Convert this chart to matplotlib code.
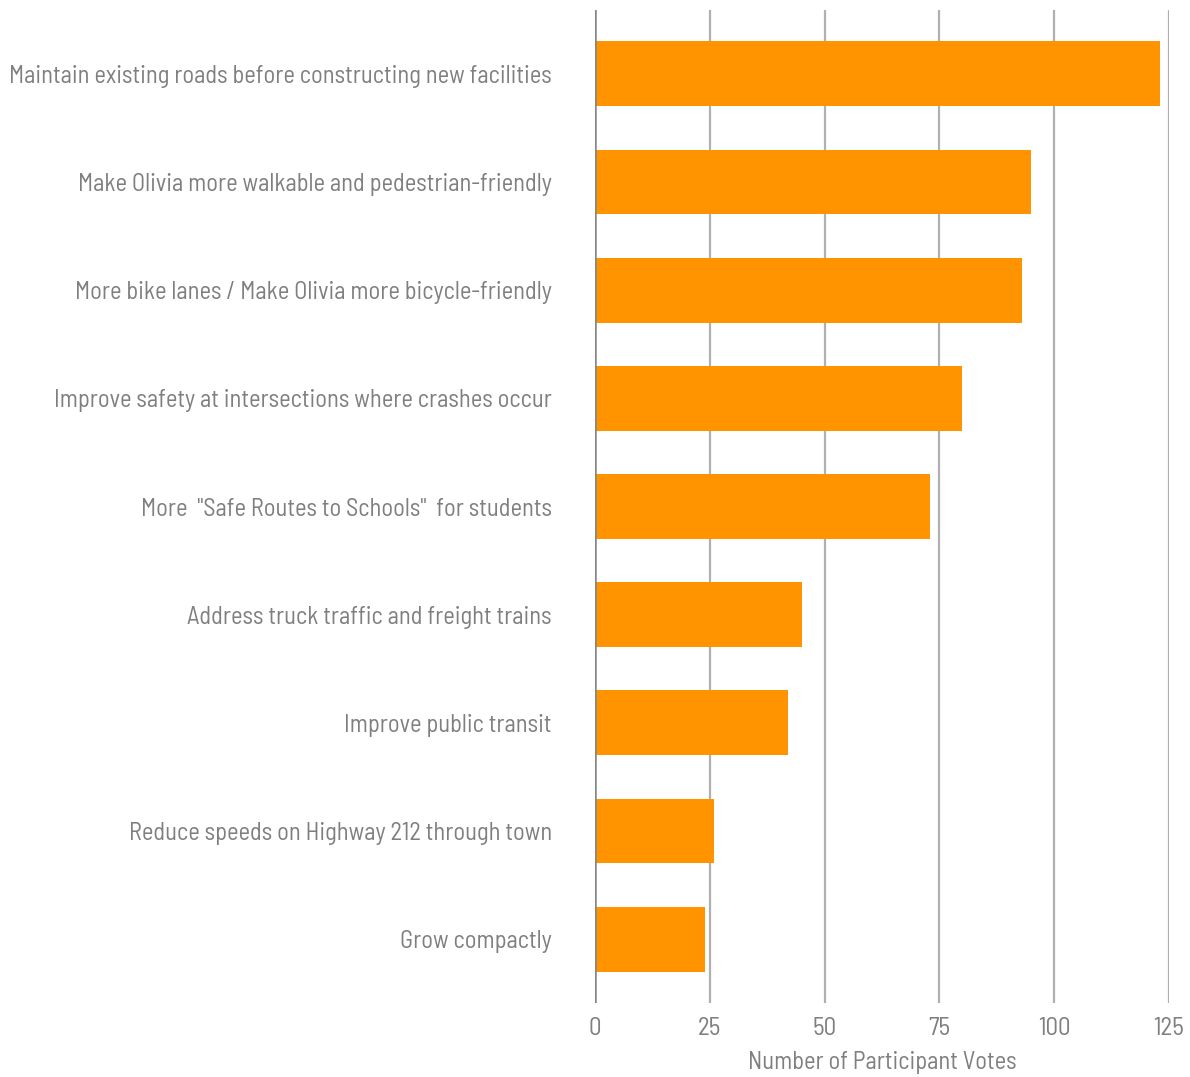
import matplotlib.pyplot as plt

categories = [
    "Maintain existing roads before constructing new facilities",
    "Make Olivia more walkable and pedestrian-friendly",
    "More bike lanes / Make Olivia more bicycle-friendly",
    "Improve safety at intersections where crashes occur",
    'More  "Safe Routes to Schools"  for students',
    "Address truck traffic and freight trains",
    "Improve public transit",
    "Reduce speeds on Highway 212 through town",
    "Grow compactly",
]
votes = [123, 95, 93, 80, 73, 45, 42, 26, 24]
xticks = [0, 25, 50, 75, 100, 125]

plt.rcParams['font.family'] = ['Barlow Semi Condensed', 'Roboto Condensed', 'DejaVu Sans']

txt = '#7f7f7f'
fig = plt.figure(figsize=(11.9, 10.77), dpi=100)
ax = fig.add_axes([0.5, 0.0687, 0.4824, 0.922])

y = list(range(len(categories)))
ax.barh(y, votes, height=0.6, color='#ff9400', zorder=3)
ax.set_ylim(8.59, -0.59)
ax.set_xlim(0, 125)

for t in xticks[1:]:
    ax.axvline(t, color='#b0b0b0', lw=1.6, zorder=1)
ax.axvline(0, color='#868686', lw=1.8, zorder=4)

for s in ax.spines.values():
    s.set_visible(False)

ax.set_yticks(y)
ax.set_yticklabels(categories, fontsize=17.6, color=txt)
ax.set_xticks(xticks)
ax.set_xticklabels([str(t) for t in xticks], fontsize=18, color=txt)
ax.tick_params(axis='y', length=0, pad=31)
ax.tick_params(axis='x', length=0, pad=10)
ax.set_xlabel("Number of Participant Votes", fontsize=17.6, color=txt, labelpad=8)

fig.savefig('out.png', dpi=100)
